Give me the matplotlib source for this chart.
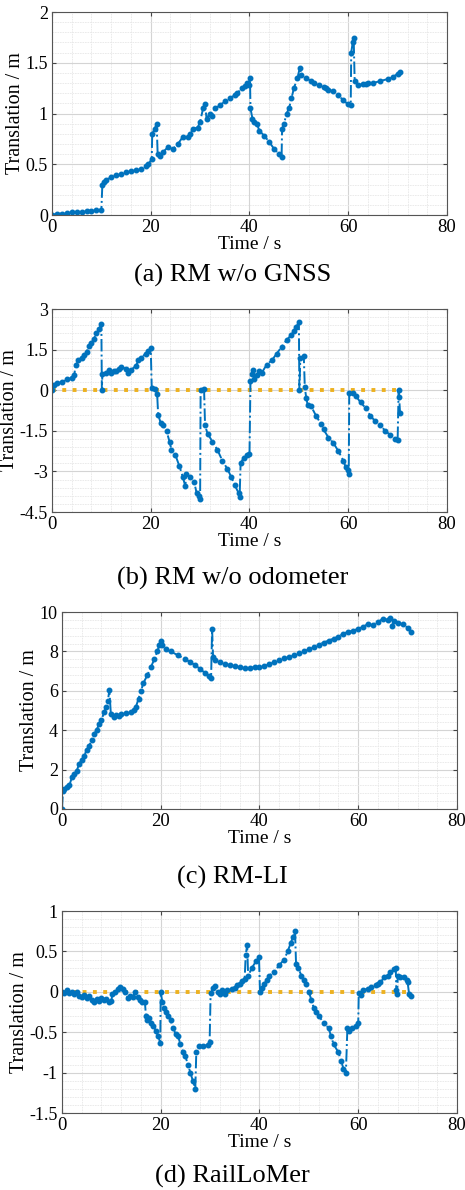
import numpy as np
import matplotlib
matplotlib.use('Agg')
import matplotlib.pyplot as plt
from matplotlib.ticker import MultipleLocator, FuncFormatter

plt.rcParams['font.family'] = ['Liberation Serif', 'DejaVu Serif']
plt.rcParams['axes.unicode_minus'] = False

# --- data ---
# (a) RM w/o GNSS
t_a = [0, 1, 2, 3, 4, 5, 6, 7, 8, 9, 10, 10.2, 10.5, 11, 12, 13, 14, 15, 16, 17, 18, 19, 19.5, 20.2,
       20.3, 20.8, 21.2, 21.4, 21.8, 22.5, 23.5, 24.5, 25.5, 26.5, 27.5, 28, 28.5, 29.5, 30, 30.6, 31,
       31.3, 32, 32.5, 33, 34, 35, 36, 37, 37.5, 38.5, 39, 39.5, 39.8, 40.1, 40.2, 40.6, 41, 41.5, 42,
       43, 44, 45, 46, 46.5, 46.6, 47, 47.5, 48, 48.5, 49, 49.7, 50.2, 50.5, 51.5, 52.5, 53, 54, 55,
       55.5, 56, 57, 58, 59, 60, 60.5, 60.6, 60.9, 61.1, 61.3, 62, 63, 63.5, 64, 65, 66.5, 68, 69, 70, 70.5]
y_a = [0.0, 0.01, 0.015, 0.02, 0.025, 0.03, 0.03, 0.035, 0.04, 0.045, 0.05, 0.3, 0.33, 0.35, 0.37, 0.39, 0.4, 0.42, 0.43, 0.44, 0.45, 0.48, 0.5, 0.55,
       0.8, 0.85, 0.9, 0.6, 0.58, 0.62, 0.67, 0.65, 0.7, 0.77, 0.77, 0.8, 0.85, 0.86, 0.92, 1.05, 1.09,
       0.95, 1.0, 0.98, 1.05, 1.08, 1.12, 1.15, 1.18, 1.2, 1.25, 1.27, 1.3, 1.28, 1.35, 1.05, 0.95, 0.92, 0.9, 0.83,
       0.78, 0.72, 0.65, 0.6, 0.57, 0.85, 0.9, 1.0, 1.05, 1.15, 1.25, 1.35, 1.45, 1.38, 1.35, 1.32, 1.3, 1.28, 1.26,
       1.25, 1.23, 1.22, 1.18, 1.13, 1.09, 1.08, 1.6, 1.7, 1.74, 1.32, 1.28, 1.29, 1.29, 1.3, 1.3, 1.32, 1.34, 1.36, 1.39, 1.41]

# (b) RM w/o odometer
t_b = [0, 0.5, 1, 2, 3, 4, 4.5, 4.8, 5.3, 6, 6.5, 7, 7.5, 8, 8.5, 9, 9.5, 10, 10.1, 10.2, 11, 11.5, 12,
       12.5, 13, 13.5, 14, 15, 15.3, 16, 17, 17.5, 18, 19, 19.5, 20, 20.2, 20.8, 21.3, 21.5, 22, 22.5,
       23.2, 23.8, 24.2, 25, 25.8, 26.5, 27, 27.2, 28, 28.8, 29.3, 29.8, 30, 30.1, 30.8, 31, 31.5, 32.5,
       33.5, 34.5, 35.5, 36.3, 37, 37.8, 38, 38.2, 38.8, 39.5, 40, 40.2, 40.5, 40.8, 41, 41.5, 42, 42.5,
       43.5, 44.5, 45.5, 46.5, 47.5, 48.5, 49, 49.5, 50, 50.1, 50.3, 51, 51.2, 51.5, 51.8, 52.5, 53.5,
       54.5, 55, 56, 57, 58, 59, 59.5, 60, 60.1, 60.2, 61, 61.5, 62.5, 63.5, 64.5, 65.5, 66.5, 67.5,
       68.5, 69.5, 70, 70.2, 70.3, 70.5]
y_b = [0.0, 0.2, 0.25, 0.3, 0.4, 0.45, 0.55, 0.95, 1.1, 1.2, 1.3, 1.4, 1.65, 1.75, 1.9, 2.1, 2.25, 2.45, 0.0, 0.6, 0.65, 0.75, 0.65,
       0.72, 0.7, 0.78, 0.85, 0.8, 0.65, 0.75, 0.9, 1.1, 1.2, 1.35, 1.45, 1.55, 0.1, 0.05, -0.15, -0.9, -1.2, -1.3,
       -1.5, -1.9, -2.2, -2.4, -2.8, -3.2, -3.55, -3.1, -3.2, -3.4, -3.8, -3.9, -4.0, 0.0, 0.04, -1.3, -1.6, -1.9,
       -2.2, -2.6, -2.9, -3.2, -3.5, -3.8, -3.95, -2.7, -2.5, -2.4, -2.35, 0.35, 0.6, 0.75, 0.4, 0.55, 0.7, 0.65,
       0.95, 1.1, 1.35, 1.6, 1.85, 2.05, 2.2, 2.35, 2.52, 0.0, 1.2, 1.25, 0.12, -0.3, -0.55, -0.6, -0.95,
       -1.25, -1.45, -1.75, -1.95, -2.25, -2.6, -2.85, -2.95, -3.1, -0.1, -0.1, -0.2, -0.45, -0.65, -0.95, -1.15, -1.3, -1.5,
       -1.65, -1.8, -1.85, 0.0, -0.25, -0.85]

# (c) RM-LI
t_c = [0, 0.2, 0.5, 1, 1.5, 2, 2.5, 3, 3.5, 4, 4.5, 5, 5.5, 6, 6.5, 7, 7.5, 8, 8.5, 9, 9.3, 9.6, 9.9,
       10.5, 11, 11.5, 12, 13, 14, 14.5, 15, 15.5, 16, 16.5, 17.3, 18, 18.7, 19.3, 19.7, 20, 20.3, 21,
       22, 23.5, 25, 26, 27, 28, 29, 29.8, 30.2, 30.4, 30.6, 31, 32, 33, 34, 35, 36, 37, 38, 39, 40, 41,
       42, 43, 44, 45, 46, 47, 48, 49, 50, 51, 52, 53, 54, 55, 56, 57, 58, 59, 60, 61, 62, 63, 64, 65,
       66, 66.5, 66.8, 67.2, 68, 69, 70, 70.6]
y_c = [0.0, 0.9, 1.0, 1.1, 1.2, 1.6, 1.8, 1.95, 2.3, 2.5, 2.7, 3.0, 3.2, 3.5, 3.8, 4.0, 4.3, 4.5, 4.9, 5.2, 5.5, 6.05, 4.8,
       4.65, 4.75, 4.7, 4.8, 4.85, 4.9, 5.05, 5.2, 5.6, 6.0, 6.4, 6.8, 7.2, 7.6, 8.0, 8.3, 8.55, 8.3, 8.1,
       8.0, 7.8, 7.6, 7.45, 7.3, 7.1, 6.9, 6.75, 6.65, 9.15, 7.7, 7.55, 7.45, 7.35, 7.3, 7.25, 7.2, 7.15, 7.15, 7.2, 7.22, 7.25,
       7.35, 7.45, 7.55, 7.65, 7.7, 7.8, 7.9, 8.0, 8.1, 8.2, 8.35, 8.45, 8.55, 8.65, 8.75, 8.9, 9.0, 9.05, 9.15, 9.25, 9.4, 9.35, 9.5, 9.65,
       9.6, 9.72, 9.3, 9.55, 9.45, 9.4, 9.2, 9.0]

# (d) RailLoMer
t_d = [0, 0.5, 1, 1.5, 2, 2.5, 3, 3.5, 4, 4.5, 5, 5.5, 6, 6.5, 7, 7.5, 8, 8.5, 9, 9.5, 10, 10.2, 10.8,
       11.3, 11.8, 12.3, 12.8, 13.3, 13.8, 14.3, 14.8, 15.3, 15.8, 16.3, 16.8, 17, 17.2, 17.6, 18, 18.5,
       19, 19.5, 19.9, 20, 20.3, 20.7, 21, 21.5, 22, 22.5, 23, 23.5, 24, 24.5, 25, 25.5, 26, 26.5, 27,
       27.2, 27.7, 28.5, 29.5, 29.9, 30.1, 30.6, 31, 31.5, 32, 32.5, 33, 33.5, 34.5, 35, 35.5, 36, 36.5,
       37, 37.2, 37.5, 37.7, 38.5, 39.3, 39.9, 40.1, 40.5, 41, 41.5, 42, 43, 44, 45, 45.7, 46.3, 46.8,
       47.2, 47.4, 47.8, 48.5, 49, 49.5, 50, 50.5, 51, 51.5, 52, 53, 54, 54.5, 55, 56, 56.5, 57, 57.5,
       57.8, 58.2, 58.8, 59.5, 60, 60.1, 60.5, 61, 62, 62.5, 63.5, 64, 64.5, 65.3, 66, 66.5, 67.3, 67.6,
       67.7, 67.9, 68, 68.5, 69.3, 69.8, 70, 70.3, 70.7]
y_d = [0.0, -0.02, 0.02, -0.02, 0.0, -0.03, 0.0, -0.05, -0.06, -0.04, -0.08, -0.05, -0.1, -0.12, -0.09, -0.11, -0.08, -0.1, -0.09, -0.13, -0.11, -0.03, 0.0,
       0.04, 0.06, 0.04, 0.0, -0.08, -0.05, -0.07, 0.0, -0.06, -0.1, -0.12, -0.13, -0.3, -0.35, -0.33, -0.38, -0.42,
       -0.48, -0.55, -0.63, 0.0, -0.12, -0.2, -0.25, -0.3, -0.35, -0.45, -0.52, -0.55, -0.65, -0.75, -0.8, -0.9, -1.0, -1.1, -1.2,
       -0.75, -0.67, -0.67, -0.66, -0.62, -0.02, 0.05, 0.07, 0.0, -0.03, 0.02, -0.03, 0.02, 0.03, 0.05, 0.08, 0.1, 0.14,
       0.16, 0.45, 0.58, 0.2, 0.3, 0.38, 0.43, 0.0, 0.05, 0.1, 0.15, 0.2, 0.25, 0.33, 0.4, 0.5, 0.6, 0.68,
       0.75, 0.35, 0.3, 0.2, 0.15, 0.1, 0.0, -0.1, -0.2, -0.25, -0.3, -0.38, -0.45, -0.55, -0.65, -0.75, -0.85, -0.95, -1.0,
       -0.45, -0.48, -0.45, -0.42, -0.38, -0.02, -0.04, 0.02, 0.04, 0.06, 0.08, 0.1, 0.12, 0.18, 0.2, 0.25, 0.28, 0.3,
       0.02, -0.03, 0.2, 0.18, 0.18, 0.15, 0.12, -0.03, -0.05]

ref_t = [0, 70.5]
ref_y = [0, 0]

BLUE = '#0072BD'
ORANGE = '#EDB120'


def style_axis(ax, ylim, ymajor, yminor, ylab_x):
    ax.set_xlim(0, 80)
    ax.set_ylim(*ylim)
    ax.xaxis.set_major_locator(MultipleLocator(20))
    ax.xaxis.set_minor_locator(MultipleLocator(4))
    ax.yaxis.set_major_locator(MultipleLocator(ymajor))
    ax.yaxis.set_minor_locator(MultipleLocator(yminor))
    ax.yaxis.set_major_formatter(FuncFormatter(lambda v, p: '%g' % round(v, 3)))
    ax.grid(which='major', color='#d4d4d4', lw=0.8)
    ax.grid(which='minor', color='#e8e8e8', lw=0.6, ls=(0, (2, 1)))
    ax.set_axisbelow(True)
    ax.tick_params(which='both', direction='in', top=True, right=True,
                   color='#444444', pad=3)
    ax.tick_params(axis='x', labelsize=13.5)
    ax.tick_params(axis='y', labelsize=13)
    ax.tick_params(which='major', length=3)
    ax.tick_params(which='minor', length=0)
    for s in ax.spines.values():
        s.set_color('#555555')
        s.set_linewidth(0.8)
    ax.set_xlabel('Time / s', fontsize=14, labelpad=0)
    ax.set_ylabel('Translation / m', fontsize=14.5, va='center')
    ax.yaxis.set_label_coords(ylab_x, 0.5)


fig = plt.figure(figsize=(4.65, 11.9), dpi=100)

# rect, t, y, reference line, ylim, major, minor, title, title y (px), ylabel x (px)
panels = [
    ([0.1118, 0.8193, 0.8495, 0.1706], t_a, y_a, False, (0, 2), 0.5, 0.1, '(a) RM w/o GNSS', 275, 16),
    ([0.1118, 0.5697, 0.8495, 0.1706], t_b, y_b, True, (-4.5, 3), 1.5, 0.3, '(b) RM w/o odometer', 578, 10),
    ([0.1333, 0.3202, 0.8495, 0.1655], t_c, y_c, False, (0, 10), 2, 0.4, '(c) RM-LI', 877, 30),
    ([0.1333, 0.0647, 0.8495, 0.1697], t_d, y_d, True, (-1.5, 1), 0.5, 0.1, '(d) RailLoMer', 1176, 19),
]

for rect, t, y, with_ref, ylim, ymaj, ymin, title, ty, lx in panels:
    ax = fig.add_axes(rect)
    if with_ref:
        ax.plot(ref_t, ref_y, color=ORANGE, ls=':', lw=2.8)
    ax.plot(t, y, color=BLUE, ls='-.', lw=1.4, marker='.', markersize=6.5)
    style_axis(ax, ylim, ymaj, ymin, (lx - rect[0] * 465) / (rect[2] * 465))
    fig.text(0.5, 1 - ty / 1190, title, ha='center', va='center', fontsize=19)

fig.savefig('out.png', dpi=100)
